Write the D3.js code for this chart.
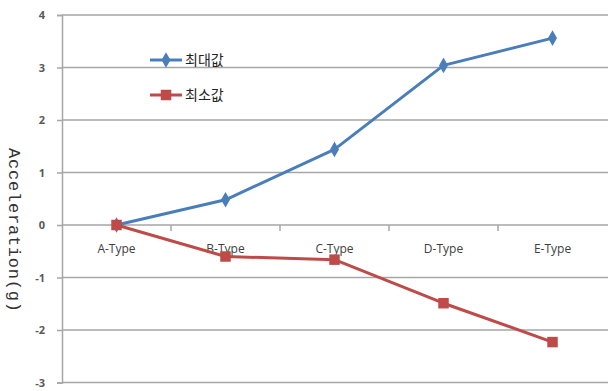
<!DOCTYPE html>
<html>
<head>
<meta charset="utf-8">
<script src="https://cdn.jsdelivr.net/npm/d3@7"></script>
<style>
  html, body { margin: 0; padding: 0; background: #fff; }
  svg { display: block; }
</style>
</head>
<body>
<svg id="chart" width="608" height="391"></svg>
<script>
// Peak acceleration per mount type
const categories = ["A-Type", "B-Type", "C-Type", "D-Type", "E-Type"];
const maxValues = [0, 0.48, 1.44, 3.04, 3.56];
const minValues = [0, -0.6, -0.66, -1.49, -2.23];
const yTicks = [-3, -2, -1, 0, 1, 2, 3, 4];
const seriesNames = ["최대값", "최소값"];

const svg = d3.select("#chart");
const plotLeft = 62, plotRight = 607, plotTop = 15, plotBottom = 382.5;

const x = d3.scaleBand().domain(categories).range([plotLeft, plotRight]);
const y = d3.scaleLinear().domain([-3, 4]).range([plotBottom, plotTop]);
const cx = d => x(d) + x.bandwidth() / 2;

// horizontal gridlines
svg.append("g")
  .selectAll("line")
  .data(yTicks)
  .join("line")
  .attr("x1", plotLeft).attr("x2", 608)
  .attr("y1", d => y(d)).attr("y2", d => y(d))
  .attr("stroke", "#a6a6a6").attr("stroke-width", 1.5);

// value axis with outward ticks
const yAxis = svg.append("g")
  .attr("transform", `translate(${plotLeft},0)`)
  .call(d3.axisLeft(y).tickValues(yTicks).tickSize(5).tickPadding(12).tickFormat(d => String(d)));
yAxis.select(".domain").attr("stroke", "#a6a6a6").attr("stroke-width", 1.5);
yAxis.selectAll(".tick line").attr("stroke", "#a6a6a6").attr("stroke-width", 1.5);
yAxis.selectAll(".tick text")
  .attr("fill", "#595959")
  .style("font-family", "'Open Sans', 'Liberation Sans', sans-serif")
  .style("font-size", "11px")
  .style("font-weight", "bold");

// category axis along zero
const xAxis = svg.append("g")
  .attr("transform", `translate(0,${y(0)})`)
  .call(d3.axisBottom(x).tickSize(0).tickPadding(19));
xAxis.select(".domain").remove();
xAxis.selectAll(".tick text")
  .attr("fill", "#404040")
  .style("font-family", "'Open Sans', 'Liberation Sans', sans-serif")
  .style("font-size", "12px");

// category separators
svg.append("g")
  .selectAll("line")
  .data(categories.slice(1))
  .join("line")
  .attr("x1", d => x(d)).attr("x2", d => x(d))
  .attr("y1", y(0)).attr("y2", y(0) + 6)
  .attr("stroke", "#a6a6a6").attr("stroke-width", 1.5);

// axis title
svg.append("text")
  .attr("transform", `translate(9,148) rotate(90)`)
  .attr("x", 0).attr("y", 0)
  .attr("textLength", 164)
  .attr("lengthAdjust", "spacing")
  .attr("fill", "#333")
  .style("font-family", "'Liberation Mono', 'DejaVu Sans Mono', monospace")
  .style("font-size", "17px")
  .text("Acceleration(g)");

const blue = "#4a7ebb", red = "#be4b48";
const line = d3.line().x((d, i) => cx(categories[i])).y(d => y(d));

const diamond = d3.symbol().type(d3.symbolDiamond).size(70);
const square = d3.symbol().type(d3.symbolSquare).size(110);

// max series
svg.append("path").datum(maxValues)
  .attr("d", line).attr("fill", "none")
  .attr("stroke", blue).attr("stroke-width", 3).attr("stroke-linejoin", "round");
svg.append("g").selectAll("path").data(maxValues).join("path")
  .attr("transform", (d, i) => `translate(${cx(categories[i])},${y(d)})`)
  .attr("d", diamond).attr("fill", blue);

// min series
svg.append("path").datum(minValues)
  .attr("d", line).attr("fill", "none")
  .attr("stroke", red).attr("stroke-width", 3).attr("stroke-linejoin", "round");
svg.append("g").selectAll("path").data(minValues).join("path")
  .attr("transform", (d, i) => `translate(${cx(categories[i])},${y(d)})`)
  .attr("d", square).attr("fill", red);

// legend
const legend = svg.append("g");
const legendItems = [
  { name: seriesNames[0], color: blue, sym: diamond, yy: 60 },
  { name: seriesNames[1], color: red, sym: square, yy: 95 }
];
legendItems.forEach(it => {
  legend.append("line")
    .attr("x1", 150).attr("x2", 182).attr("y1", it.yy).attr("y2", it.yy)
    .attr("stroke", it.color).attr("stroke-width", 3);
  legend.append("path")
    .attr("transform", `translate(166,${it.yy})`)
    .attr("d", it.sym).attr("fill", it.color);
  legend.append("text")
    .attr("x", 185).attr("y", it.yy + 5)
    .attr("fill", "#222")
    .style("font-family", "'Noto Sans CJK KR', sans-serif")
    .style("font-size", "14px")
    .text(it.name);
});
</script>
</body>
</html>
